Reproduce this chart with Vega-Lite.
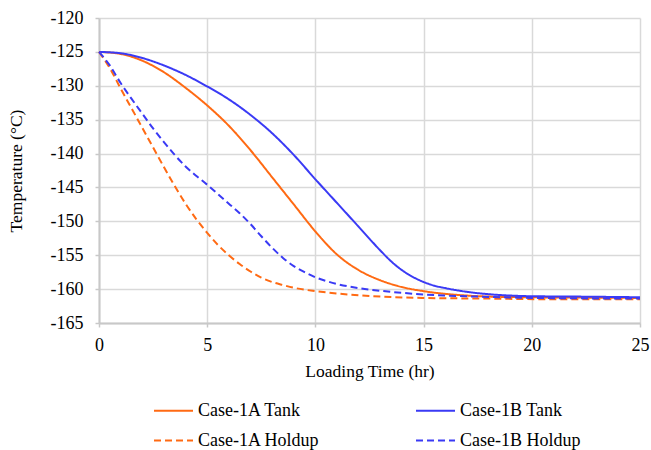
{
  "$schema": "https://vega.github.io/schema/vega-lite/v6.json",
  "width": 541,
  "height": 305,
  "autosize": {"type": "none"},
  "padding": {"left": 99, "top": 18, "right": 11, "bottom": 127},
  "background": "white",
  "config": {
    "font": "Liberation Serif",
    "view": {"stroke": null},
    "axis": {
      "gridColor": "#d9d9d9",
      "gridWidth": 1.5,
      "domainColor": "#c8c8c8",
      "domainWidth": 2,
      "tickColor": "#c8c8c8",
      "tickWidth": 1.5,
      "tickSize": 4,
      "labelColor": "#000000",
      "labelFontSize": 18,
      "labelFont": "Liberation Serif",
      "titleColor": "#000000",
      "titleFontSize": 17.5,
      "titleFont": "Liberation Serif",
      "titleFontWeight": "normal"
    },
    "legend": {
      "orient": "none",
      "legendX": 54,
      "legendY": 372,
      "columns": 2,
      "gridAlign": "all",
      "columnPadding": 92,
      "rowPadding": -3,
      "padding": 0,
      "symbolType": "stroke",
      "symbolSize": 1521,
      "symbolStrokeWidth": 2,
      "labelFontSize": 18,
      "labelFont": "Liberation Serif",
      "labelColor": "#000000",
      "labelOffset": 4,
      "title": null
    }
  },
  "data": {
    "values": [
      {"s": "Case-1A Tank", "t": 0, "T": -125},
      {"s": "Case-1A Tank", "t": 1, "T": -125.3},
      {"s": "Case-1A Tank", "t": 2, "T": -126.3},
      {"s": "Case-1A Tank", "t": 3, "T": -128.0},
      {"s": "Case-1A Tank", "t": 4, "T": -130.3},
      {"s": "Case-1A Tank", "t": 5, "T": -132.9},
      {"s": "Case-1A Tank", "t": 6, "T": -135.9},
      {"s": "Case-1A Tank", "t": 7, "T": -139.5},
      {"s": "Case-1A Tank", "t": 8, "T": -143.5},
      {"s": "Case-1A Tank", "t": 9, "T": -147.5},
      {"s": "Case-1A Tank", "t": 10, "T": -151.5},
      {"s": "Case-1A Tank", "t": 11, "T": -154.9},
      {"s": "Case-1A Tank", "t": 12, "T": -157.2},
      {"s": "Case-1A Tank", "t": 13, "T": -158.7},
      {"s": "Case-1A Tank", "t": 14, "T": -159.7},
      {"s": "Case-1A Tank", "t": 15, "T": -160.3},
      {"s": "Case-1A Tank", "t": 16, "T": -160.7},
      {"s": "Case-1A Tank", "t": 17, "T": -160.95},
      {"s": "Case-1A Tank", "t": 18, "T": -161.1},
      {"s": "Case-1A Tank", "t": 20, "T": -161.2},
      {"s": "Case-1A Tank", "t": 22, "T": -161.25},
      {"s": "Case-1A Tank", "t": 25, "T": -161.3},

      {"s": "Case-1B Tank", "t": 0, "T": -125},
      {"s": "Case-1B Tank", "t": 1, "T": -125.2},
      {"s": "Case-1B Tank", "t": 2, "T": -125.9},
      {"s": "Case-1B Tank", "t": 3, "T": -127.0},
      {"s": "Case-1B Tank", "t": 4, "T": -128.4},
      {"s": "Case-1B Tank", "t": 5, "T": -130.1},
      {"s": "Case-1B Tank", "t": 6, "T": -132.0},
      {"s": "Case-1B Tank", "t": 7, "T": -134.3},
      {"s": "Case-1B Tank", "t": 8, "T": -137.0},
      {"s": "Case-1B Tank", "t": 9, "T": -140.2},
      {"s": "Case-1B Tank", "t": 10, "T": -143.8},
      {"s": "Case-1B Tank", "t": 11, "T": -147.3},
      {"s": "Case-1B Tank", "t": 12, "T": -150.8},
      {"s": "Case-1B Tank", "t": 13, "T": -154.3},
      {"s": "Case-1B Tank", "t": 13.5, "T": -155.9},
      {"s": "Case-1B Tank", "t": 14, "T": -157.2},
      {"s": "Case-1B Tank", "t": 14.5, "T": -158.2},
      {"s": "Case-1B Tank", "t": 15, "T": -158.95},
      {"s": "Case-1B Tank", "t": 15.5, "T": -159.5},
      {"s": "Case-1B Tank", "t": 16, "T": -159.85},
      {"s": "Case-1B Tank", "t": 17, "T": -160.4},
      {"s": "Case-1B Tank", "t": 18, "T": -160.75},
      {"s": "Case-1B Tank", "t": 19, "T": -160.95},
      {"s": "Case-1B Tank", "t": 20, "T": -161.05},
      {"s": "Case-1B Tank", "t": 22, "T": -161.1},
      {"s": "Case-1B Tank", "t": 25, "T": -161.2},

      {"s": "Case-1A Holdup", "t": 0, "T": -125},
      {"s": "Case-1A Holdup", "t": 0.5, "T": -127.4},
      {"s": "Case-1A Holdup", "t": 1, "T": -130.4},
      {"s": "Case-1A Holdup", "t": 1.5, "T": -133.3},
      {"s": "Case-1A Holdup", "t": 2, "T": -136.2},
      {"s": "Case-1A Holdup", "t": 2.5, "T": -139.1},
      {"s": "Case-1A Holdup", "t": 3, "T": -142.0},
      {"s": "Case-1A Holdup", "t": 3.5, "T": -144.8},
      {"s": "Case-1A Holdup", "t": 4, "T": -147.4},
      {"s": "Case-1A Holdup", "t": 4.5, "T": -149.7},
      {"s": "Case-1A Holdup", "t": 5, "T": -151.7},
      {"s": "Case-1A Holdup", "t": 5.5, "T": -153.5},
      {"s": "Case-1A Holdup", "t": 6, "T": -155.0},
      {"s": "Case-1A Holdup", "t": 6.5, "T": -156.3},
      {"s": "Case-1A Holdup", "t": 7, "T": -157.4},
      {"s": "Case-1A Holdup", "t": 7.5, "T": -158.3},
      {"s": "Case-1A Holdup", "t": 8, "T": -158.95},
      {"s": "Case-1A Holdup", "t": 8.5, "T": -159.4},
      {"s": "Case-1A Holdup", "t": 9, "T": -159.8},
      {"s": "Case-1A Holdup", "t": 10, "T": -160.3},
      {"s": "Case-1A Holdup", "t": 11, "T": -160.65},
      {"s": "Case-1A Holdup", "t": 12, "T": -160.9},
      {"s": "Case-1A Holdup", "t": 13, "T": -161.1},
      {"s": "Case-1A Holdup", "t": 15, "T": -161.3},
      {"s": "Case-1A Holdup", "t": 18, "T": -161.4},
      {"s": "Case-1A Holdup", "t": 21, "T": -161.5},
      {"s": "Case-1A Holdup", "t": 25, "T": -161.5},

      {"s": "Case-1B Holdup", "t": 0, "T": -125},
      {"s": "Case-1B Holdup", "t": 0.5, "T": -127.0},
      {"s": "Case-1B Holdup", "t": 1, "T": -129.6},
      {"s": "Case-1B Holdup", "t": 1.5, "T": -131.9},
      {"s": "Case-1B Holdup", "t": 2, "T": -134.1},
      {"s": "Case-1B Holdup", "t": 2.5, "T": -136.3},
      {"s": "Case-1B Holdup", "t": 3, "T": -138.3},
      {"s": "Case-1B Holdup", "t": 3.5, "T": -140.2},
      {"s": "Case-1B Holdup", "t": 4, "T": -141.9},
      {"s": "Case-1B Holdup", "t": 4.5, "T": -143.3},
      {"s": "Case-1B Holdup", "t": 5, "T": -144.6},
      {"s": "Case-1B Holdup", "t": 5.5, "T": -146.0},
      {"s": "Case-1B Holdup", "t": 6, "T": -147.4},
      {"s": "Case-1B Holdup", "t": 6.5, "T": -148.8},
      {"s": "Case-1B Holdup", "t": 7, "T": -150.4},
      {"s": "Case-1B Holdup", "t": 7.5, "T": -152.2},
      {"s": "Case-1B Holdup", "t": 8, "T": -153.9},
      {"s": "Case-1B Holdup", "t": 8.5, "T": -155.4},
      {"s": "Case-1B Holdup", "t": 9, "T": -156.6},
      {"s": "Case-1B Holdup", "t": 9.5, "T": -157.5},
      {"s": "Case-1B Holdup", "t": 10, "T": -158.25},
      {"s": "Case-1B Holdup", "t": 10.5, "T": -158.8},
      {"s": "Case-1B Holdup", "t": 11, "T": -159.25},
      {"s": "Case-1B Holdup", "t": 12, "T": -159.85},
      {"s": "Case-1B Holdup", "t": 13, "T": -160.25},
      {"s": "Case-1B Holdup", "t": 14, "T": -160.55},
      {"s": "Case-1B Holdup", "t": 15, "T": -160.8},
      {"s": "Case-1B Holdup", "t": 16, "T": -160.95},
      {"s": "Case-1B Holdup", "t": 18, "T": -161.15},
      {"s": "Case-1B Holdup", "t": 20, "T": -161.3},
      {"s": "Case-1B Holdup", "t": 25, "T": -161.4}
    ]
  },
  "mark": {"type": "line", "strokeWidth": 2, "interpolate": "monotone"},
  "encoding": {
    "x": {
      "field": "t",
      "type": "quantitative",
      "scale": {"domain": [0, 25], "nice": false, "zero": false},
      "axis": {
        "title": "Loading Time (hr)",
        "values": [0, 5, 10, 15, 20, 25],
        "labelPadding": 9,
        "titlePadding": 8,
        "labelFlush": false
      }
    },
    "y": {
      "field": "T",
      "type": "quantitative",
      "scale": {"domain": [-165, -120], "nice": false, "zero": false},
      "axis": {
        "title": "Temperature (°C)",
        "values": [-165, -160, -155, -150, -145, -140, -135, -130, -125, -120],
        "labelExpr": "'' + datum.value",
        "labelPadding": 12,
        "titlePadding": 25
      }
    },
    "color": {
      "field": "s",
      "type": "nominal",
      "sort": ["Case-1A Tank", "Case-1A Holdup", "Case-1B Tank", "Case-1B Holdup"],
      "scale": {
        "domain": ["Case-1A Tank", "Case-1A Holdup", "Case-1B Tank", "Case-1B Holdup"],
        "range": ["#ff6a13", "#ff6a13", "#3a3af5", "#3a3af5"]
      }
    },
    "strokeDash": {
      "field": "s",
      "type": "nominal",
      "sort": ["Case-1A Tank", "Case-1A Holdup", "Case-1B Tank", "Case-1B Holdup"],
      "scale": {
        "domain": ["Case-1A Tank", "Case-1A Holdup", "Case-1B Tank", "Case-1B Holdup"],
        "range": [[1, 0], [7, 4], [1, 0], [7, 4]]
      }
    }
  }
}
